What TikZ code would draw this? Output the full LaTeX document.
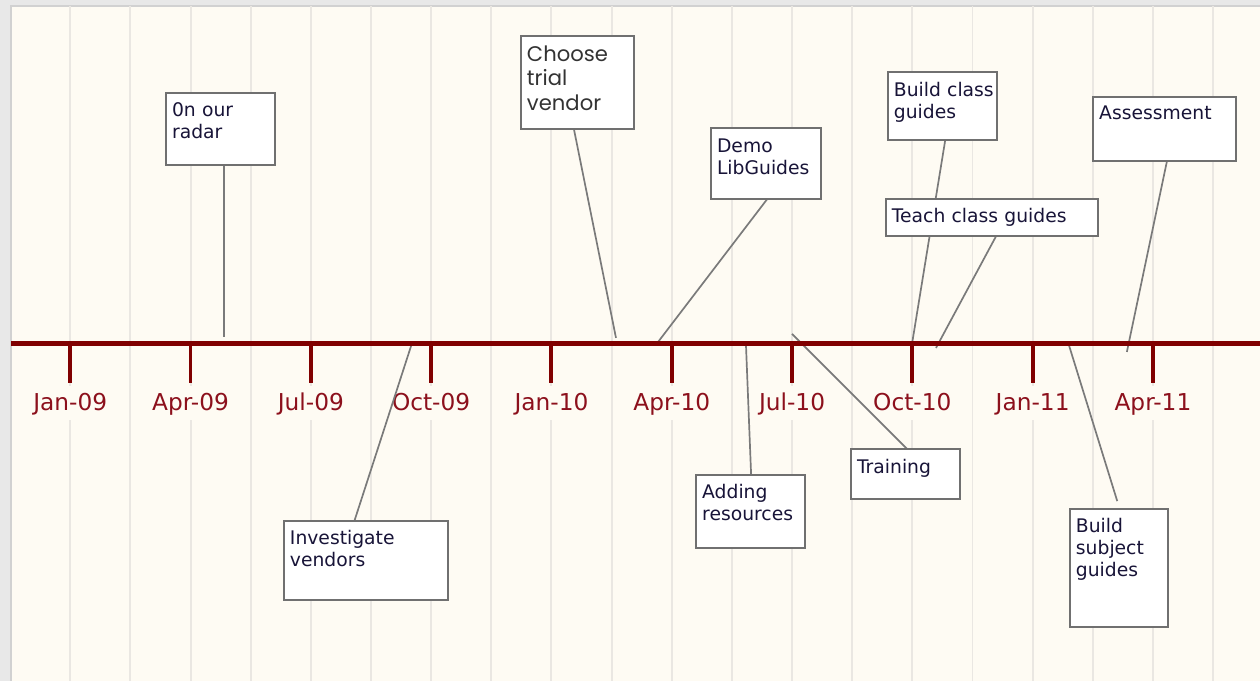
\documentclass[tikz,border=0pt]{standalone}
\usepackage{fontspec}
\usepackage{tikz}

\newfontfamily\labelfont{DejaVu Sans}
\newfontfamily\gothicfont{Poppins}

\definecolor{outer}{RGB}{232,232,232}
\definecolor{panel}{RGB}{254,251,243}
\definecolor{gridline}{RGB}{234,231,226}
\definecolor{axisred}{RGB}{128,0,0}
\definecolor{datered}{RGB}{140,16,28}
\definecolor{boxline}{RGB}{112,112,112}
\definecolor{stem}{RGB}{122,122,122}
\definecolor{ink}{RGB}{24,20,56}

\pgfdeclarelayer{back}
\pgfdeclarelayer{stems}
\pgfsetlayers{back,stems,main}

\tikzset{
  event/.style={draw=boxline, line width=1.3pt, fill=white, anchor=north west, align=left,
    inner xsep=0.15cm, inner ysep=0pt, outer sep=0pt, text height=0.58cm, text=ink,
    font=\labelfont\fontsize{13.3}{15.6}\selectfont},
  stemline/.style={draw=stem, line width=1.2pt},
  datelabel/.style={fill=panel, text=datered, inner sep=0.15cm, anchor=base,
    text height=0.46cm, text depth=0.09cm,
    font=\labelfont\fontsize{16.5}{19}\selectfont},
}

\begin{document}
\begin{tikzpicture}
\useasboundingbox (-1.751,-8.416) rectangle (29.67,8.566);

\begin{pgfonlayer}{back}
% the window and its background
\fill[outer] (-1.751,-8.416) rectangle (29.67,8.566);
\fill[panel] (-1.476,-8.416) rectangle (29.67,8.416);
\draw[black!18, line width=0.8pt] (-1.476,-8.416) -- (-1.476,8.416) -- (29.67,8.416);
% the grid, every six weeks
\foreach \x in {0,1.5,...,28.5}
  \draw[gridline, line width=1.4pt] (\x,-8.416) -- (\x,8.416);
% the dates below the ticks
\foreach \x/\d [count=\i] in {0/Jan-09, 3/Apr-09, 6/Jul-09, 9/Oct-09, 12/Jan-10,
    15/Apr-10, 18/Jul-10, 21/Oct-10, 24/Jan-11, 27/Apr-11}
  \node[datelabel] (d\i) at (\x,-1.67) {\d};
\end{pgfonlayer}

% the time line
\draw[axisred, line width=3.9pt] (-1.476,0) -- (29.67,0);
% the ticks, one every three months
\foreach \x in {0,3,...,27}
  \draw[axisred, line width=2.8pt] (\x,0) -- (\x,-0.985);

% the events
\node[event, text width=2.42cm, text depth=1.22cm] (radar) at (2.39,6.25) {0n our\\radar};
\node[event, text width=3.79cm, text depth=1.39cm] (vendors) at (5.33,-4.43) {Investigate\\vendors};
\node[event, text width=2.52cm, text height=0.63cm, text depth=1.69cm, text=black!80,
  font=\gothicfont\fontsize{15}{17.4}\selectfont] (trial) at (11.24,7.67) {Choose\\trial\\vendor};
\node[event, text width=2.44cm, text height=0.6cm, text depth=1.17cm] (demo) at (15.98,5.37) {Demo\\LibGuides};
\node[event, text width=2.42cm, text depth=1.24cm] (adding) at (15.61,-3.28) {Adding\\resources};
\node[event, text width=2.42cm, text height=0.6cm, text depth=0.65cm] (training) at (19.47,-2.63) {Training};
\node[event, text width=2.42cm, text height=0.62cm, text depth=1.08cm] (build) at (20.39,6.77) {Build~class\\guides};
\node[event, text width=4.99cm, text depth=0.34cm] (teach) at (20.34,3.60) {Teach class guides};
\node[event, text width=3.27cm, text height=0.56cm, text depth=1.04cm] (assess) at (25.51,6.15) {Assessment};
\node[event, text width=2.14cm, text depth=2.36cm] (subject) at (24.93,-4.13) {Build\\subject\\guides};

% where each event meets the line
\coordinate (radar-t) at (3.835,0.16);
\coordinate (vendors-t) at (8.52,0);
\coordinate (trial-t) at (13.61,0.14);
\coordinate (demo-t) at (14.63,0);
\coordinate (adding-t) at (16.85,0);
\coordinate (training-t) at (18.0,0.24);
\coordinate (build-t) at (21.0,0.04);
\coordinate (teach-t) at (21.59,-0.11);
\coordinate (assess-t) at (26.35,-0.21);
\coordinate (subject-t) at (24.88,0.04);

% the stems, under the line and the boxes
\begin{pgfonlayer}{stems}
\draw[stemline] ([xshift=1.445cm]radar.south west) -- (radar-t);
\draw[stemline] ([xshift=1.755cm]vendors.north west) -- (vendors-t);
\draw[stemline] ([xshift=1.32cm]trial.south west) -- (trial-t);
\draw[stemline] ([xshift=1.4cm]demo.south west) -- (demo-t);
\draw[stemline] ([xshift=1.37cm]adding.north west) -- (adding-t);
\draw[stemline] ([xshift=1.4cm]training.north west) -- (training-t);
\draw[stemline] ([xshift=1.43cm]build.south west) -- (build-t);
\draw[stemline] ([xshift=2.75cm]teach.south west) -- (teach-t);
\draw[stemline] ([xshift=1.84cm]assess.south west) -- (assess-t);
\draw[stemline] ([shift={(1.18,0.2)}]subject.north west) -- (subject-t);
\end{pgfonlayer}
\end{tikzpicture}
\end{document}
